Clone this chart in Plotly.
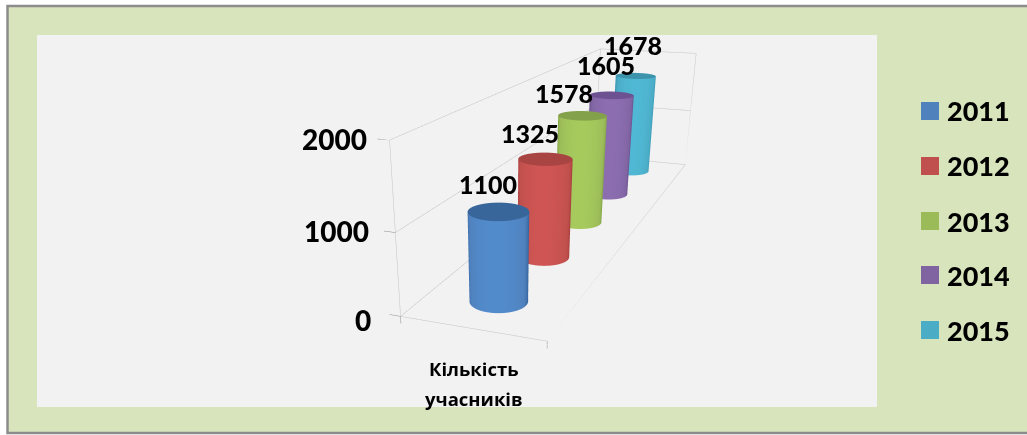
import numpy as np
import plotly.graph_objects as go

years = ["2011", "2012", "2013", "2014", "2015"]
values = [1100, 1325, 1578, 1605, 1678]
category_lines = ["Кількість", "учасників"]
z_ticks = [0, 1000, 2000]

base_colors = ["#4F81BD", "#C0504D", "#9BBB59", "#8064A2", "#4BACC6"]
edge_colors = ["#2F5F99", "#A03B38", "#789A3F", "#5F4784", "#2F8CA8"]
light_colors = ["#528BCB", "#CE5553", "#A6CA5C", "#8C6EB0", "#50B8D4"]
cap_colors = ["#38659A", "#A84441", "#83A04A", "#6C5290", "#3C93AB"]
label_shift = [(-10, -28), (-15, -26), (-19, -23), (-6, -30), (-3, -31)]
tick_shift = [(-14, -6), (-10, 0), (-6, 0)]

W, H = 1027, 685
FONT = "Lato"
CYR = "Open Sans"

x_range = [-0.1, 1.0]
y_range = [0.0, 5.0]
z_range = [-100.0, 2000.0]
world_per_unit = np.array([0.19, 0.175, 0.2154 / 2000])
eye_data = np.array([2.403, -4.653, 3907.0])
look_data = np.array([0.173, 1.555, -1440.0])

lo = np.array([x_range[0], y_range[0], z_range[0]])
hi = np.array([x_range[1], y_range[1], z_range[1]])
span_world = (hi - lo) * world_per_unit
s = 1.0 / span_world[1]
aspect = span_world * s
mid = (lo + hi) / 2
eye = (eye_data - mid) * world_per_unit * s
look = (look_data - mid) * world_per_unit * s

fig = go.Figure()

# cylinders
R_X, R_Y = 0.197, 0.214
theta = np.linspace(0, 2 * np.pi, 121)
view = (eye_data - np.array([0.5, 2.5, 0])) * world_per_unit
view_xy = view[:2] / np.hypot(*view[:2])
flat = dict(ambient=1, diffuse=0, specular=0, roughness=1, fresnel=0)
for i, (yr, v) in enumerate(zip(years, values)):
    cy = i + 0.5
    xs = 0.5 + R_X * np.cos(theta)
    ys = cy + R_Y * np.sin(theta)
    X = np.vstack([xs, xs])
    Y = np.vstack([ys, ys])
    Z = np.vstack([np.zeros_like(xs), np.full_like(xs, v)])
    t = np.clip(np.cos(theta) * view_xy[0] + np.sin(theta) * view_xy[1], 0, 1)
    fig.add_surface(x=X, y=Y, z=Z, surfacecolor=np.vstack([t, t]), cmin=0, cmax=1,
                    colorscale=[[0, edge_colors[i]], [0.45, base_colors[i]], [1, light_colors[i]]],
                    showscale=False, lighting=flat, hoverinfo="skip", name=yr)
    rr = np.linspace(0, 1, 2)
    CX = 0.5 + np.outer(rr, R_X * np.cos(theta))
    CY = cy + np.outer(rr, R_Y * np.sin(theta))
    CZ = np.full_like(CX, v)
    fig.add_surface(x=CX, y=CY, z=CZ, surfacecolor=np.zeros_like(CX), cmin=0, cmax=1,
                    colorscale=[[0, cap_colors[i]], [1, cap_colors[i]]],
                    showscale=False, lighting=flat, hoverinfo="skip", name=yr)

# walls and floor lines
def segs(points):
    xs, ys, zs = [], [], []
    for a, b in points:
        xs += [a[0], b[0], None]
        ys += [a[1], b[1], None]
        zs += [a[2], b[2], None]
    return xs, ys, zs

grid = []
zt = max(z_ticks)
for t in z_ticks:
    grid.append(((0, 0, t), (0, 5, t)))
    grid.append(((0, 5, t), (1, 5, t)))
for c in [(0, 0), (0, 5), (1, 5)]:
    grid.append(((c[0], c[1], 0), (c[0], c[1], zt)))
grid += [((0, 0, 0), (1, 0, 0)), ((1, 0, 0), (1, 5, 0))]
gx, gy, gz = segs(grid)
fig.add_scatter3d(x=gx, y=gy, z=gz, mode="lines", line=dict(color="#c4c4c4", width=1),
                  hoverinfo="skip", showlegend=False)
ticks = [((-0.08, 0, t), (0, 0, t)) for t in z_ticks]
ticks += [((0, 0, 0), (0, 0, -90)), ((1, 0, 0), (1, 0, -90))]
tx, ty, tz = segs(ticks)
fig.add_scatter3d(x=tx, y=ty, z=tz, mode="lines", line=dict(color="#8c8c8c", width=1),
                  hoverinfo="skip", showlegend=False)

# annotations in the scene
ann3d = []
for t, (dx, dy) in zip(z_ticks, tick_shift):
    ann3d.append(dict(x=-0.1, y=0, z=t, text=str(t), showarrow=False, xanchor="right",
                      xshift=dx, yshift=dy, font=dict(family=FONT, size=28, color="black", weight=900)))
for i, v in enumerate(values):
    dx, dy = label_shift[i]
    ann3d.append(dict(x=0.5, y=i + 0.5, z=v, text=str(v), showarrow=False,
                      xshift=dx, yshift=-dy, font=dict(family=FONT, size=25, color="black", weight=900)))
for j, line in enumerate(category_lines):
    ann3d.append(dict(x=0.5, y=0, z=0, text=f"<b>{line}</b>", showarrow=False,
                      xshift=2, yshift=-40 - 30 * j, font=dict(family=CYR, size=18.5, color="black")))

def py(y):
    return 1 - y / H

def px(x):
    return x / W

shapes = [
    dict(type="rect", xref="paper", yref="paper", x0=px(7.5), x1=px(1040), y0=py(6), y1=py(433),
         fillcolor="#D8E4BC", line=dict(color="#8c8c8c", width=2.5), layer="below"),
    dict(type="rect", xref="paper", yref="paper", x0=px(37), x1=px(877), y0=py(35), y1=py(407),
         fillcolor="#F2F2F2", line=dict(width=0), layer="below"),
]
annotations = []
legend_y = [111, 166, 221, 275, 330]
for i, yr in enumerate(years):
    shapes.append(dict(type="rect", xref="paper", yref="paper", x0=px(921), x1=px(939),
                       y0=py(legend_y[i] - 9), y1=py(legend_y[i] + 9),
                       fillcolor=base_colors[i], line=dict(width=0), layer="below"))
    annotations.append(dict(xref="paper", yref="paper", x=px(945), y=py(legend_y[i]), text=yr,
                            showarrow=False, xanchor="left", yanchor="middle",
                            font=dict(family=FONT, size=27, color="black", weight=900)))

fig.update_layout(
    width=W, height=H, autosize=False, margin=dict(l=0, r=0, t=0, b=0, pad=0),
    paper_bgcolor="white", plot_bgcolor="rgba(0,0,0,0)", showlegend=False,
    shapes=shapes, annotations=annotations,
    scene=dict(
        domain=dict(x=[0, 1012 / W], y=[0, 1]),
        aspectmode="manual",
        aspectratio=dict(x=float(aspect[0]), y=float(aspect[1]), z=float(aspect[2])),
        camera=dict(eye=dict(x=float(eye[0]), y=float(eye[1]), z=float(eye[2])),
                    center=dict(x=float(look[0]), y=float(look[1]), z=float(look[2])),
                    up=dict(x=0, y=0, z=1)),
        xaxis=dict(visible=False, range=x_range),
        yaxis=dict(visible=False, range=y_range),
        zaxis=dict(visible=False, range=z_range),
        bgcolor="rgba(0,0,0,0)",
        annotations=ann3d,
    ),
)
fig.write_html("out.html", config=dict(displayModeBar=False),
               post_script="document.body.style.margin='0';document.documentElement.style.overflow='hidden';document.body.style.overflow='hidden';")
